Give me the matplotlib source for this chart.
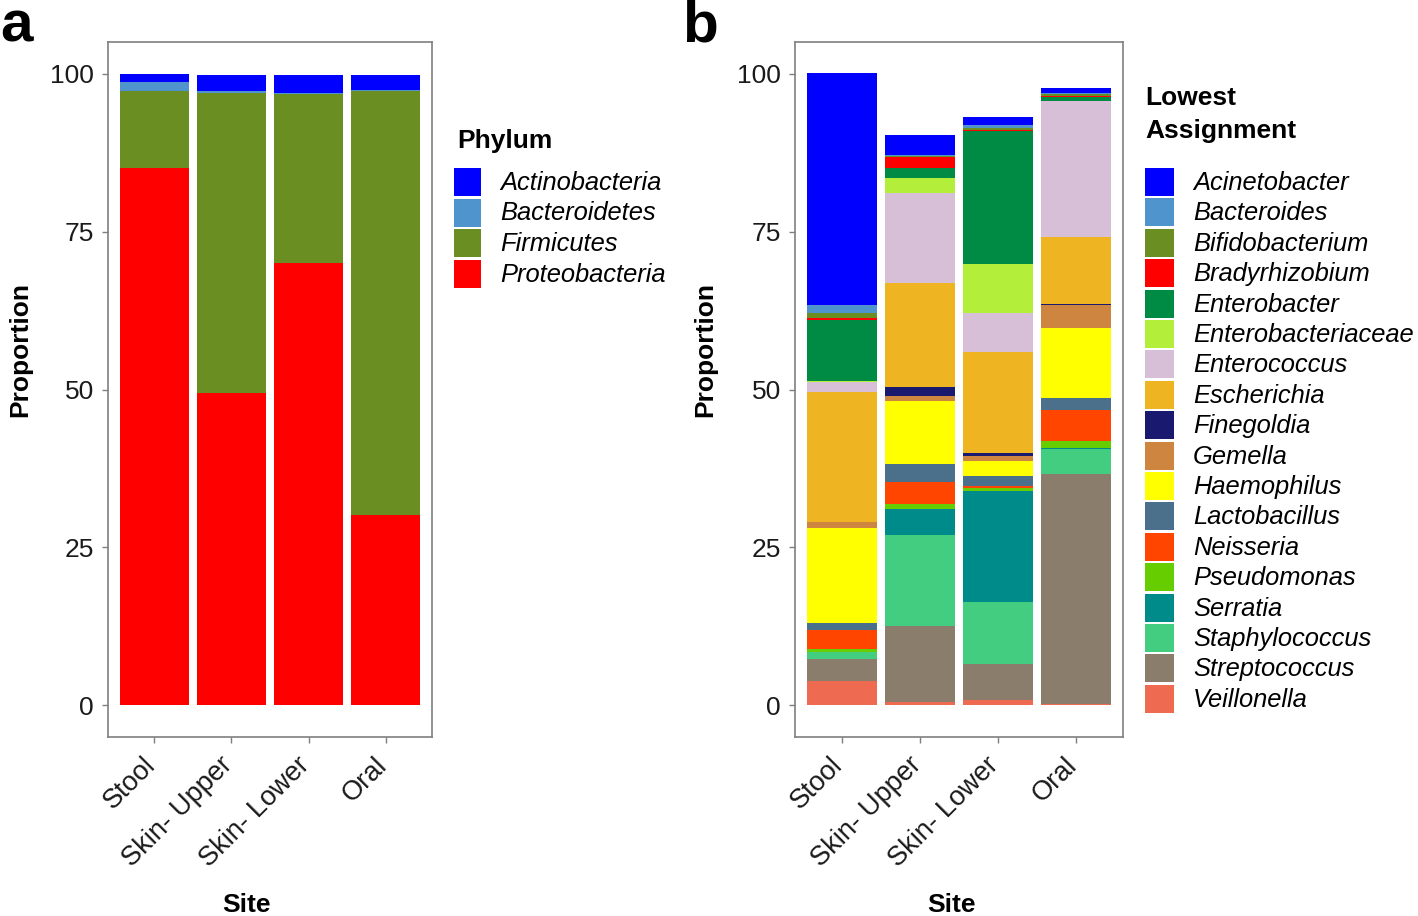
import matplotlib
matplotlib.use("Agg")
import matplotlib.pyplot as plt
import matplotlib.transforms as mtransforms
from matplotlib.patches import Rectangle
import numpy as np

plt.rcParams['font.family'] = ['Liberation Sans', 'DejaVu Sans']

# ---------------- data ----------------
sites = ["Stool", "Skin- Upper", "Skin- Lower", "Oral"]

phyla = ["Actinobacteria", "Bacteroidetes", "Firmicutes", "Proteobacteria"]
phylum_colors = ["#0000FF", "#4F94CD", "#6B8E23", "#FF0000"]
actinobacteria = [1.4, 2.6, 2.8, 2.4]
bacteroidetes = [1.3, 0.3, 0.3, 0.1]
firmicutes = [12.3, 47.5, 26.6, 67.1]
proteobacteria = [85.0, 49.4, 70.1, 30.2]
phylum_values = [actinobacteria, bacteroidetes, firmicutes, proteobacteria]

genera = ["Acinetobacter", "Bacteroides", "Bifidobacterium", "Bradyrhizobium",
          "Enterobacter", "Enterobacteriaceae", "Enterococcus", "Escherichia",
          "Finegoldia", "Gemella", "Haemophilus", "Lactobacillus", "Neisseria",
          "Pseudomonas", "Serratia", "Staphylococcus", "Streptococcus", "Veillonella"]
genus_colors = ["#0000FF", "#4F94CD", "#6B8E23", "#FF0000",
                "#008B45", "#B3EE3A", "#D8BFD8", "#EEB422",
                "#191970", "#CD853F", "#FFFF00", "#4A708B", "#FF4500",
                "#66CD00", "#008B8B", "#43CD80", "#8B7D6B", "#EE6A50"]
acinetobacter = [36.7, 3.2, 1.3, 0.8]
bacteroides = [1.3, 0.2, 0.5, 0.2]
bifidobacterium = [0.8, 0.2, 0.3, 0.2]
bradyrhizobium = [0.3, 1.7, 0.2, 0.2]
enterobacter = [9.6, 1.5, 21.0, 0.7]
enterobacteriaceae = [0.2, 2.4, 7.8, 0.0]
enterococcus = [1.6, 14.3, 6.1, 21.4]
escherichia = [20.6, 16.4, 16.0, 10.6]
finegoldia = [0.0, 1.5, 0.6, 0.3]
gemella = [0.84, 0.7, 0.7, 3.6]
haemophilus = [15.1, 10.0, 2.4, 11.0]
lactobacillus = [1.0, 2.8, 1.5, 2.0]
neisseria = [3.06, 3.5, 0.4, 4.9]
pseudomonas = [0.5, 0.9, 0.5, 1.0]
serratia = [0.0, 4.0, 17.6, 0.2]
staphylococcus = [1.1, 14.5, 9.8, 4.0]
streptococcus = [3.5, 12.0, 5.7, 36.3]
veillonella = [3.85, 0.53, 0.8, 0.3]
genus_values = [acinetobacter, bacteroides, bifidobacterium, bradyrhizobium,
                enterobacter, enterobacteriaceae, enterococcus, escherichia,
                finegoldia, gemella, haemophilus, lactobacillus, neisseria,
                pseudomonas, serratia, staphylococcus, streptococcus, veillonella]

yticks = [0, 25, 50, 75, 100]

# ---------------- figure ----------------
W, H = 1418, 916
fig = plt.figure(figsize=(W / 100, H / 100), dpi=100)

def fx(x):
    return x / W

def fy(y):
    return 1 - y / H

FS = 19
XFS = 19.6
LFS = 18.4
GRAY = "#7F7F7F"

def make_axes(left_px, right_px):
    return fig.add_axes([fx(left_px), fy(737), fx(right_px) - fx(left_px), fy(42) - fy(737)])

def draw_stack(ax, labels, colors, values, xlab_x, ylab_x):
    x = np.arange(1, len(sites) + 1)
    bottom = np.zeros(len(sites))
    # ggplot stacks the first level on top: draw from last to first
    for lab, col, vals in reversed(list(zip(labels, colors, values))):
        v = np.array(vals, dtype=float)
        ax.bar(x, v, width=0.9, bottom=bottom, color=col, edgecolor='none',
               linewidth=0, label=lab)
        bottom += v
    ax.set_xlim(0.4, 4.6)
    ax.set_ylim(-5, 105)
    ax.set_xticks(x)
    ax.set_yticks(yticks)
    for s in ax.spines.values():
        s.set_color(GRAY)
        s.set_linewidth(1.2)
    ax.tick_params(axis='both', colors=GRAY, length=4, width=1.0, labelcolor='#1a1a1a')
    ax.tick_params(axis='x', pad=7)
    ax.tick_params(axis='y', pad=6)
    ax.set_xticklabels(sites, rotation=45, ha='right', va='top',
                       rotation_mode='anchor', fontsize=XFS)
    ax.set_yticklabels([str(t) for t in yticks], fontsize=FS)
    offset = mtransforms.ScaledTranslation(-12 / 100, 0, fig.dpi_scale_trans)
    for lbl in ax.get_xticklabels():
        lbl.set_transform(lbl.get_transform() + offset)
    ax.set_xlabel("Site", fontsize=FS, fontweight='bold')
    ax.set_ylabel("Proportion", fontsize=FS, fontweight='bold')
    ax.xaxis.set_label_coords(xlab_x, -0.242)
    ax.yaxis.set_label_coords(ylab_x, 0.558)
    ax.xaxis.label.set_va('center')
    ax.yaxis.label.set_va('center')

def draw_legend(title_lines, title_y, x_title, x_key, key_w, first_top, step, labels, colors, x_text):
    for t, ty in zip(title_lines, title_y):
        fig.text(fx(x_title), fy(ty), t, fontsize=FS, fontweight='bold',
                 ha='left', va='center')
    for i, (lab, col) in enumerate(zip(labels, colors)):
        top = first_top + i * step
        fig.add_artist(Rectangle((fx(x_key), fy(top + 28)), fx(key_w), fy(0) - fy(28),
                                 transform=fig.transFigure, facecolor=col,
                                 edgecolor='none'))
        fig.text(fx(x_text), fy(top + 15), lab, fontsize=LFS, fontstyle='italic',
                 ha='left', va='center')

# Panel a
ax1 = make_axes(108, 432)
draw_stack(ax1, phyla, phylum_colors, phylum_values, 0.426, -0.272)
draw_legend(["Phylum"], [141], 457, 454, 27, 168, 30.5, phyla, phylum_colors, 500)

# Panel b
ax2 = make_axes(795, 1123)
draw_stack(ax2, genera, genus_colors, genus_values, 0.476, -0.274)
draw_legend(["Lowest", "Assignment"], [98, 131], 1145, 1145, 29, 168, 30.4,
            genera, genus_colors, 1193)

fig.text(fx(0), fy(27), "a", fontsize=42, fontweight='bold', ha='left', va='center')
fig.text(fx(682), fy(27), "b", fontsize=42, fontweight='bold', ha='left', va='center')

fig.savefig("out.png", dpi=100)
